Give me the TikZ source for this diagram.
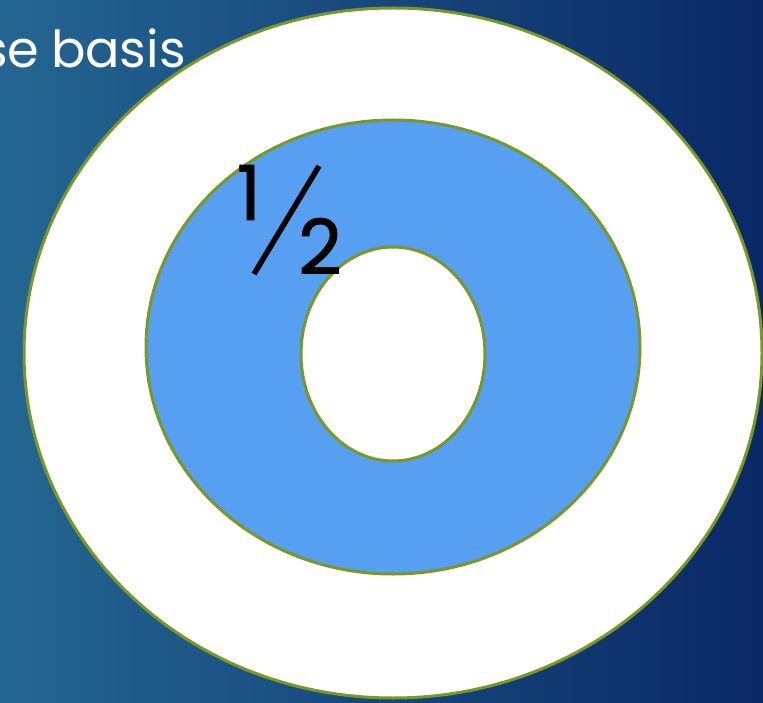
\documentclass[tikz,border=0pt]{standalone}
\usepackage{fontspec}
\setmainfont{Poppins}
\newfontfamily\titlefont[WordSpace=0.85]{Poppins}
\definecolor{bgleft}{RGB}{36,102,146}
\definecolor{bgright}{RGB}{10,40,102}
\definecolor{ringblue}{RGB}{87,160,241}
\definecolor{ringgreen}{RGB}{122,152,38}
\tikzset{
  ring/.style={draw=ringgreen, line width=3pt},
  digit/.style={inner sep=0pt, font=\fontsize{76}{76}\selectfont\addfontfeature{FakeBold=1.2}, text=black},
}
\begin{document}
\begin{tikzpicture}[x=1pt,y=-1pt]
\useasboundingbox (0,0) rectangle (763,703);
\clip (0,0) rectangle (763,703);
\shade[left color=bgleft, right color=bgright] (0,0) rectangle (763,703);
\node[anchor=base east, inner sep=0pt, text=white, font=\titlefont\fontsize{51}{60}\selectfont] (title) at (186,68) {se basis};
\draw[ring, fill=white] (393,353) ellipse [x radius=369, y radius=345];
\draw[ring, fill=ringblue] (393,347) ellipse [x radius=247, y radius=227];
\draw[ring, fill=white] (393,354) ellipse [x radius=92, y radius=107];
\node[digit, anchor=base] (one) at (249,220) {1};
\node[digit, anchor=base] (two) at (320,274) {2};
\coordinate (slashtop) at (319,166);
\coordinate (slashbot) at (254,274);
\draw[line width=5.5pt] (slashtop) -- (slashbot);
\end{tikzpicture}
\end{document}
